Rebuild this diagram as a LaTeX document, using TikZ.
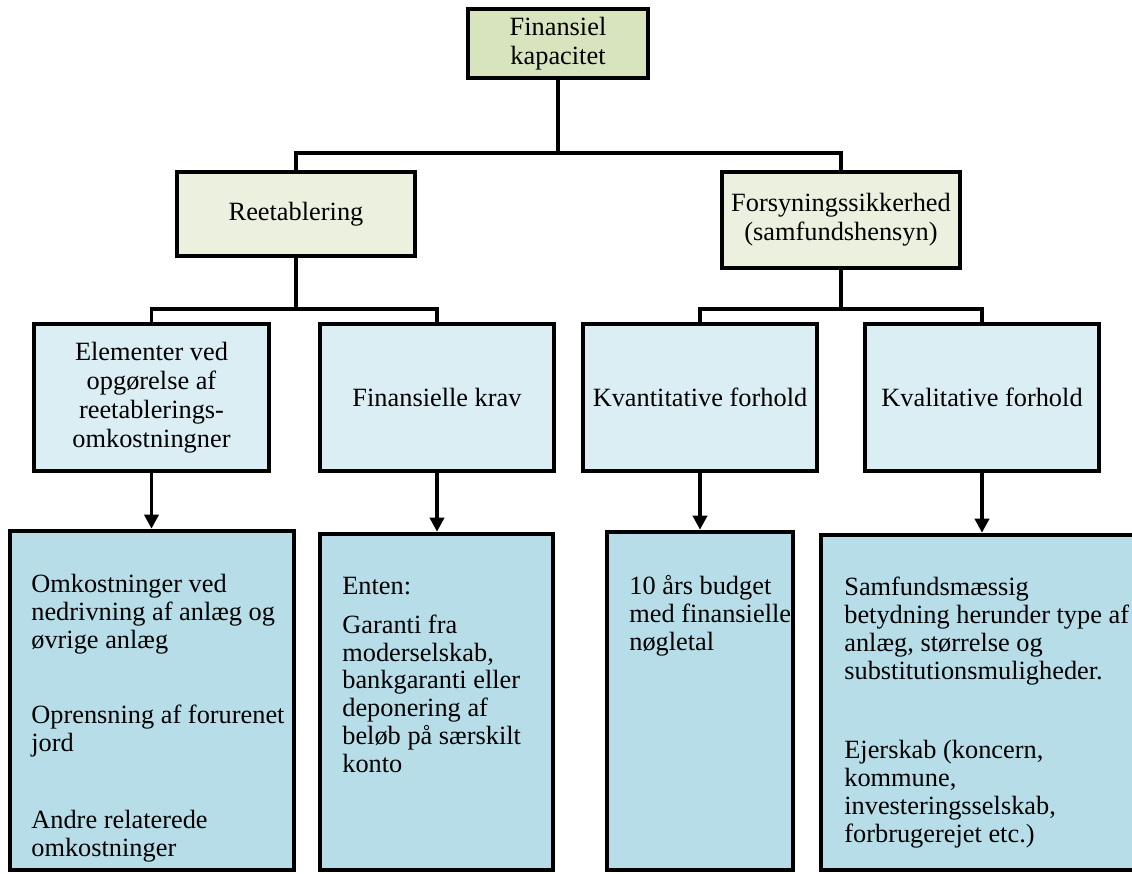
\documentclass[tikz,border=0pt]{standalone}
\usepackage{fontspec}
\setmainfont{Liberation Serif}
\usetikzlibrary{arrows.meta}
\definecolor{topgreen}{HTML}{D7E4BD}
\definecolor{palegreen}{HTML}{EBF1DE}
\definecolor{paleblue}{HTML}{DBEEF4}
\definecolor{lowblue}{HTML}{B7DEE8}
\newdimen\pxunit \pxunit=0.02cm

\begin{document}
\begin{tikzpicture}[x=0.02cm, y=-0.02cm,
    box/.style={draw=black, line width=2.6pt, align=center, inner sep=2pt,
      font=\fontsize{15}{16.4}\selectfont},
    link/.style={line width=2.2pt},
    arr/.style={line width=2.2pt, -{Triangle[width=8pt,length=8pt]}},
    txt/.style={align=left, inner sep=0pt, anchor=north west,
      font=\fontsize{15}{15.9}\selectfont}]
      \clip (0,0) rectangle (1132,873);

      \node[box, fill=topgreen, minimum width=180\pxunit, minimum height=69\pxunit] (1) at (558,43.5) {Finansiel\\kapacitet};
      \node[box, fill=palegreen, minimum width=238\pxunit, minimum height=84\pxunit] (2) at (296,214) {Reetablering};
      \node[box, fill=palegreen, minimum width=238\pxunit, minimum height=96\pxunit] (3) at (841,220) {Forsyningssikkerhed\\(samfundshensyn)};

      \node[box, fill=paleblue, minimum width=235\pxunit, minimum height=147\pxunit] (4) at (151.5,397.5) {Elementer ved\\opgørelse af\\reetablerings-\\omkostningner};
      \node[box, fill=paleblue, minimum width=234\pxunit, minimum height=147\pxunit] (5) at (437,397.5) {Finansielle krav};
      \node[box, fill=paleblue, minimum width=234\pxunit, minimum height=147\pxunit] (6) at (700,397.5) {Kvantitative forhold};
      \node[box, fill=paleblue, minimum width=234\pxunit, minimum height=147\pxunit] (7) at (982,397.5) {Kvalitative forhold};

      \node[box, fill=lowblue, minimum width=284\pxunit, minimum height=339\pxunit] (8) at (152,700.5) {};
      \node[box, fill=lowblue, minimum width=233\pxunit, minimum height=336\pxunit] (9) at (436.5,702) {};
      \node[box, fill=lowblue, minimum width=186\pxunit, minimum height=338\pxunit] (10) at (700,701) {};
      \node[box, fill=lowblue, minimum width=322\pxunit, minimum height=335\pxunit] (11) at (982,702.5) {};

      \node[txt] (12) at (31,574) {Omkostninger ved\\nedrivning af anlæg og\\øvrige anlæg\\[27pt]Oprensning af forurenet\\jord\\[28pt]Andre relaterede\\omkostninger};
      \node[txt] (13) at (342,577) {Enten:\\[6pt]Garanti fra\\moderselskab,\\bankgaranti eller\\deponering af\\beløb på særskilt\\konto};
      \node[txt] (14) at (629,575) {10 års budget\\med finansielle\\nøgletal};
      \node[txt] (15) at (844,577) {Samfundsmæssig\\betydning herunder type af\\anlæg, størrelse og\\substitutionsmuligheder.\\[29pt]Ejerskab (koncern,\\kommune,\\investeringsselskab,\\forbrugerejet etc.)};

      \coordinate (b1) at (558,153);
      \coordinate (b2) at (296,309);
      \coordinate (b3) at (841,309);

      \draw[link] (1.south) -- (b1) -| (2.north);
      \draw[link] (b1) -| (3.north);
      \draw[link] (2.south) -- (b2) -| (4.north);
      \draw[link] (b2) -| (5.north);
      \draw[link] (3.south) -- (b3) -| (6.north);
      \draw[link] (b3) -| (7.north);

      \path 
        (4.south) edge[arr] (4.south |- 8.north)
        (5.south) edge[arr] (5.south |- 9.north)
        (6.south) edge[arr] (6.south |- 10.north)
        (7.south) edge[arr] (7.south |- 11.north);
    \end{tikzpicture}
\end{document}
